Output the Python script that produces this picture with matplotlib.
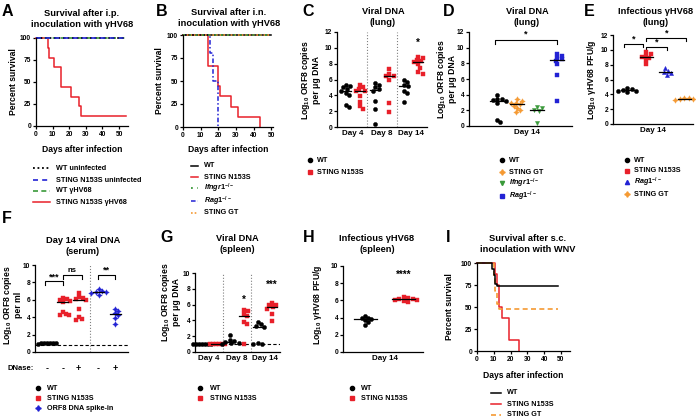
import numpy as np
import matplotlib
matplotlib.use('Agg')
import matplotlib.pyplot as plt
from matplotlib.lines import Line2D

W, H = 696, 420
plt.rcParams['font.family'] = ['Liberation Sans', 'DejaVu Sans']
plt.rcParams['font.weight'] = 'bold'
plt.rcParams['axes.labelweight'] = 'bold'
plt.rcParams['axes.linewidth'] = 0.9
plt.rcParams['mathtext.fontset'] = 'custom'
plt.rcParams['mathtext.rm'] = 'Liberation Sans:bold'
plt.rcParams['mathtext.bf'] = 'Liberation Sans:bold'
plt.rcParams['mathtext.it'] = 'Liberation Sans:italic:bold'

RED = '#e8202a'; BLUE = '#2222d4'; GREEN = '#3a9a3a'; ORANGE = '#f59a33'; BLK = 'black'

# ---------------- data ----------------
# A: survival i.p.
A_end = 54
A_wt_uninf_days, A_wt_uninf_pct = [0], [100]
A_n_uninf_days, A_n_uninf_pct = [0], [100]
A_wt_hv_days, A_wt_hv_pct = [0], [100]
A_n_hv_days = [0, 7, 8, 11, 15, 21, 26, 27]
A_n_hv_pct = [100, 88.9, 77.8, 66.7, 44.4, 33.3, 22.2, 11.1]
# B: survival i.n.
B_end = 50
B_wt_days, B_wt_pct = [0], [100]
B_n_days = [0, 14, 20, 20.7, 27, 31, 43.5]
B_n_pct = [100, 66.7, 44.4, 33.3, 22.2, 11.1, 0]
B_ifn_days, B_ifn_pct = [0], [100]
B_rag_days = [0, 15.5, 17, 20]
B_rag_pct = [100, 80, 50, 0]
B_gt_days, B_gt_pct = [0], [100]
# C: viral DNA lung (WT/N153S by day)
C_days = ['Day 4', 'Day 8', 'Day 14']
C_wt = [[5.3, 5.2, 5.0, 4.8, 4.6, 4.3, 4.0, 2.8, 2.5],
        [5.5, 5.3, 5.0, 4.8, 4.6, 3.3, 2.3, 0.4],
        [6.0, 5.7, 5.3, 5.2, 4.6, 4.3, 3.2]]
C_n = [[5.3, 5.0, 4.8, 4.6, 4.5, 3.9, 3.2, 2.6, 2.3],
       [7.3, 6.7, 6.5, 6.4, 6.0, 3.0, 1.9],
       [8.9, 8.7, 8.5, 8.3, 8.2, 7.9, 7.5, 6.9, 6.7]]
# D: viral DNA lung day 14
D_wt = [4.0, 3.5, 3.4, 3.3, 3.2, 3.0, 0.8, 0.5]
D_gt = [3.4, 3.2, 3.0, 2.9, 2.8, 2.6, 2.3, 2.0, 1.8]
D_ifn = [2.4, 2.3, 2.1, 1.9, 0.4]
D_rag = [9.2, 9.0, 8.7, 8.5, 8.3, 7.9, 6.5, 3.2]
# E: infectious lung
E_wt = [4.8, 4.7, 4.6, 4.5, 4.4, 4.3]
E_n = [9.7, 9.5, 9.2, 9.1, 8.9, 8.6, 8.1]
E_rag = [7.5, 7.2, 7.0, 6.9, 6.6]
E_gt = [3.5, 3.45, 3.4, 3.35, 3.3]
# F: serum
F_ticks = ['-', '-', '+', '-', '+']
F_wt = [1.05, 1.0, 1.0, 1.0, 0.95, 1.0, 1.0]
F_n_minus = [6.2, 6.1, 6.0, 5.9, 5.8, 4.6, 4.4, 4.3, 4.2]
F_n_plus = [6.8, 6.3, 6.2, 6.1, 6.0, 4.9, 4.0, 3.8, 3.7]
F_spk_minus = [7.2, 7.0, 6.95, 6.9, 6.8, 6.6]
F_spk_plus = [5.0, 4.7, 4.5, 4.3, 3.9, 3.2]
F_lod = 0.85
# G: spleen DNA
G_wt = [[1.0] * 7,
        [2.2, 1.5, 1.4, 1.3, 1.2, 1.1, 1.0],
        [3.8, 3.5, 3.3, 3.2, 1.1, 1.0, 1.0]]
G_n = [[1.0] * 6,
       [5.3, 5.2, 4.8, 4.5, 3.8, 3.5, 1.0],
       [6.2, 6.0, 5.9, 5.7, 5.5, 4.8, 3.9]]
G_lod = 1.0
# H: infectious spleen
H_wt = [4.2, 4.0, 3.9, 3.8, 3.7, 3.5, 3.1]
H_n = [6.35, 6.3, 6.2, 6.15, 6.1, 6.0, 5.9, 5.8]
# I: WNV survival
I_end = 48
I_wt_days = [0, 9, 10, 10.5, 11, 12]
I_wt_pct = [100, 93.3, 86.7, 80, 76.7, 73.3]
I_n_days = [0, 11, 12, 13, 15, 19, 25]
I_n_pct = [100, 87.5, 75, 50, 37.5, 12.5, 0]
I_gt_days = [0, 10, 11, 12, 13]
I_gt_pct = [100, 84, 68, 53, 47.4]

# ---------------- helpers ----------------
fig = plt.figure(figsize=(W / 100, H / 100), dpi=100)
TICK = 4.8; LAB = 6.2; TIT = 6.7; LEG = 5.2; LET = 11.5

def px_axes(l, t, r, b):
    ax = fig.add_axes([l / W, 1 - b / H, (r - l) / W, (b - t) / H])
    ax.spines['top'].set_visible(False)
    ax.spines['right'].set_visible(False)
    ax.tick_params(labelsize=TICK, length=2.5, width=0.9, pad=1)
    ax._px = (l, t, r, b)
    return ax

def ftext(x, y, s, **kw):
    kw.setdefault('ha', 'center'); kw.setdefault('va', 'center')
    return fig.text(x / W, 1 - y / H, s, **kw)

def letter(x, y, s):
    ftext(x, y, s, fontsize=LET, ha='left')

def title(x, y, s):
    ftext(x, y, s, fontsize=TIT, linespacing=1.15)

def ylab(x, y, s, ls=1.2):
    ftext(x, y, s, fontsize=LAB, rotation=90, linespacing=ls)

def surv(ax, days, pct, end, **kw):
    d = list(days) + [end]
    p = list(pct) + [pct[-1]]
    ax.step(d, p, where='post', clip_on=False, **kw)

def surv_axes(ax, xmax):
    ax.set_xlim(0, xmax); ax.set_ylim(0, 100)
    ax.set_xticks(range(0, 51, 10)); ax.set_yticks([0, 25, 50, 75, 100])

def swarm(ax, vals, dot=4.0, sep=0.85, step=1.5):
    l, t, r, b = ax._px
    x0, x1 = ax.get_xlim(); y0, y1 = ax.get_ylim()
    ppx = (r - l) / (x1 - x0); ppy = (b - t) / (y1 - y0)
    vals = np.asarray(vals, float)
    order = np.argsort(-vals, kind='stable')
    placed = []; offs = np.zeros(len(vals))
    for i in order:
        y = vals[i] * ppy
        for k in range(80):
            cand = 0.0 if k == 0 else ((k + 1) // 2) * step * (1 if k % 2 else -1)
            if all((cand - px) ** 2 + (y - py) ** 2 >= (dot * sep) ** 2 for px, py in placed):
                break
        placed.append((cand, y)); offs[i] = cand / ppx
    return offs

def group(ax, x, vals, color, marker, ms=3.0, hw=0.35, sep=0.85):
    offs = swarm(ax, vals, sep=sep)
    ax.plot(x + offs, vals, ls='none', marker=marker, color=color, ms=ms,
            mec=color, mew=0.3, clip_on=False, zorder=3)
    m = np.median(vals)
    ax.plot([x - hw, x + hw], [m, m], color=BLK, lw=0.9, zorder=4, clip_on=False)

def bracket(ax, x1, x2, y, h, txt, ty=None, fs=6.5):
    ax.plot([x1, x1, x2, x2], [y - h, y, y, y - h], color=BLK, lw=0.8, clip_on=False)
    ax.text((x1 + x2) / 2, y + (ty if ty is not None else 0.15), txt, ha='center',
            va='bottom', fontsize=fs)

def leg_marker(x, y, label, dx=7, **mk):
    fig.add_artist(Line2D([x / W], [1 - y / H], transform=fig.transFigure, ls='none', **mk))
    ftext(x + dx, y, label, fontsize=LEG, ha='left')

def leg_line(x1, x2, y, label, dx=6, **ln):
    fig.add_artist(Line2D([x1 / W, x2 / W], [1 - y / H] * 2, transform=fig.transFigure, **ln))
    ftext(x2 + dx, y, label, fontsize=LEG, ha='left')

STAR4 = (4, 1, 0)

# ---------------- A ----------------
ax = px_axes(36, 38, 128, 126)
surv_axes(ax, 55.4)
surv(ax, A_n_hv_days, A_n_hv_pct, A_end, color=RED, lw=1.1)
surv(ax, A_wt_hv_days, A_wt_hv_pct, A_end, color=GREEN, lw=1.2, ls=(0, (3, 2)))
surv(ax, A_wt_uninf_days, A_wt_uninf_pct, A_end, color=BLK, lw=1.3, ls=(0, (1, 1.5)))
surv(ax, A_n_uninf_days, A_n_uninf_pct, A_end, color=BLUE, lw=1.2, ls=(0, (3, 2.5)))
letter(2, 11, 'A')
title(82, 19, 'Survival after i.p.\ninoculation with γHV68')
ftext(82, 150, 'Days after infection', fontsize=LAB)
ylab(13, 82, 'Percent survival')
leg_line(33, 50, 168, 'WT uninfected', color=BLK, lw=1.3, ls=(0, (1, 1.5)))
leg_line(33, 50, 180, 'STING N153S uninfected', color=BLUE, lw=1.2, ls=(0, (3, 2.5)))
leg_line(33, 50, 191, 'WT γHV68', color=GREEN, lw=1.2, ls=(0, (3, 2)))
leg_line(33, 50, 202, 'STING N153S γHV68', color=RED, lw=1.1)

# ---------------- B ----------------
ax = px_axes(183, 35, 273, 127)
surv_axes(ax, 50.9)
surv(ax, B_n_days, B_n_pct, B_n_days[-1], color=RED, lw=1.1)
surv(ax, B_rag_days, B_rag_pct, B_rag_days[-1], color=BLUE, lw=1.1, ls=(0, (3, 1.5, 1, 1.5)))
surv(ax, B_wt_days, B_wt_pct, B_end, color=BLK, lw=1.1)
surv(ax, B_gt_days, B_gt_pct, B_end, color=ORANGE, lw=1.2, ls=(0, (1, 1.2)))
surv(ax, B_ifn_days, B_ifn_pct, B_end, color=GREEN, lw=1.3, ls=(0, (1, 2.5)))
letter(156, 11, 'B')
title(229, 18, 'Survival after i.n.\ninoculation with γHV68')
ftext(228, 150, 'Days after infection', fontsize=LAB)
ylab(160, 81, 'Percent survival')
leg_line(191, 198, 166, 'WT', color=BLK, lw=1.1)
leg_line(191, 198, 177, 'STING N153S', color=RED, lw=1.1)
leg_line(191, 198, 188, r'$\mathit{Ifngr1}^{-/-}$', color=GREEN, lw=1.3, ls=(0, (1, 2.5)))
leg_line(191, 198, 201, r'$\mathit{Rag1}^{-/-}$', color=BLUE, lw=1.1, ls=(0, (3, 1.5, 1, 1.5)))
leg_line(191, 198, 213, 'STING GT', color=ORANGE, lw=1.2, ls=(0, (1, 1.2)))

# ---------------- C ----------------
ax = px_axes(337, 32, 427, 127)
ax.set_xlim(-0.6, 5.6); ax.set_ylim(0, 12)
ax.set_yticks(range(0, 13, 2))
ax.set_xticks([0.5, 2.5, 4.5]); ax.set_xticklabels(C_days, fontsize=5.8)
ax.tick_params(axis='x', length=0, pad=2)
for xv in (1.5, 3.5):
    ax.axvline(xv, color='gray', ls=':', lw=0.8)
for i in range(3):
    group(ax, 2 * i, C_wt[i], BLK, 'o')
    group(ax, 2 * i + 1, C_n[i], RED, 's')
ax.text(5, 10.0, '*', ha='center', va='bottom', fontsize=7)
letter(302, 11, 'C')
title(383, 17, 'Viral DNA\n(lung)')
ylab(310, 80, 'Log$_{10}$ ORF8 copies\nper μg DNA', ls=1.1)
leg_marker(310, 160, 'WT', marker='o', color=BLK, ms=3)
leg_marker(310, 172, 'STING N153S', marker='s', color=RED, ms=3)

# ---------------- D ----------------
ax = px_axes(469, 32, 572, 126)
ax.set_xlim(-1.4, 3.75); ax.set_ylim(0, 12)
ax.set_yticks(range(0, 13, 2))
ax.set_xticks([1.5]); ax.set_xticklabels(['Day 14'], fontsize=5.8)
ax.tick_params(axis='x', length=0, pad=2)
group(ax, 0, D_wt, BLK, 'o')
group(ax, 1, D_gt, ORANGE, STAR4, ms=4)
group(ax, 2, D_ifn, GREEN, 'v')
group(ax, 3, D_rag, BLUE, 's')
bracket(ax, -0.1, 3.0, 11.0, 0.5, '*')
letter(443, 11, 'D')
title(527, 17, 'Viral DNA\n(lung)')
ylab(446, 79, 'Log$_{10}$ ORF8 copies\nper μg DNA', ls=1.1)
leg_marker(502, 160, 'WT', marker='o', color=BLK, ms=3)
leg_marker(502, 172, 'STING GT', marker=STAR4, color=ORANGE, ms=4)
leg_marker(502, 183, r'$\mathit{Ifngr1}^{-/-}$', marker='v', color=GREEN, ms=3)
leg_marker(502, 196, r'$\mathit{Rag1}^{-/-}$', marker='s', color=BLUE, ms=3)

# ---------------- E ----------------
ax = px_axes(613, 35, 693, 124)
ax.set_xlim(-0.75, 3.45); ax.set_ylim(0, 12)
ax.set_yticks(range(0, 13, 2))
ax.set_xticks([1.35]); ax.set_xticklabels(['Day 14'], fontsize=5.8)
ax.tick_params(axis='x', length=0, pad=2)
group(ax, 0, E_wt, BLK, 'o')
group(ax, 1, E_n, RED, 's')
group(ax, 2, E_rag, BLUE, '^')
group(ax, 3, E_gt, ORANGE, STAR4, ms=4)
bracket(ax, -0.15, 0.85, 10.8, 0.45, '*', ty=0.05)
bracket(ax, 1.0, 2.1, 10.4, 0.45, '*', ty=0.05)
bracket(ax, 1.0, 3.1, 11.6, 0.45, '*', ty=0.05)
letter(584, 11, 'E')
title(656, 17, 'Infectious γHV68\n(lung)')
ylab(592, 80, 'Log$_{10}$ γHV68 PFU/g')
leg_marker(627, 160, 'WT', marker='o', color=BLK, ms=3)
leg_marker(627, 171, 'STING N153S', marker='s', color=RED, ms=3)
leg_marker(627, 182, r'$\mathit{Rag1}^{-/-}$', marker='^', color=BLUE, ms=3)
leg_marker(627, 194, 'STING GT', marker=STAR4, color=ORANGE, ms=4)

# ---------------- F ----------------
ax = px_axes(35, 265, 128, 352)
Fx = [0, 1, 2, 3.25, 4.3]
ax.set_xlim(-0.75, 5.1); ax.set_ylim(0, 10)
ax.set_yticks(range(0, 11, 2))
ax.set_xticks(Fx); ax.set_xticklabels(F_ticks, fontsize=6.5)
ax.tick_params(axis='x', length=0, pad=9)
ax.axvline(2.7, color='gray', ls=':', lw=0.8)
ax.axhline(F_lod, color=BLK, ls=(0, (3, 2)), lw=0.8)
group(ax, Fx[0], F_wt, BLK, 'o', sep=0.45)
group(ax, Fx[1], F_n_minus, RED, 's')
group(ax, Fx[2], F_n_plus, RED, 's')
group(ax, Fx[3], F_spk_minus, BLUE, STAR4, ms=4)
group(ax, Fx[4], F_spk_plus, BLUE, STAR4, ms=4)
bracket(ax, -0.1, 1.0, 8.15, 0.45, '***', ty=0.0)
bracket(ax, 1.0, 2.2, 8.85, 0.45, 'ns', ty=0.1, fs=5.5)
bracket(ax, 3.2, 4.3, 8.85, 0.45, '**', ty=0.0)
ftext(7, 369, 'DNase:', fontsize=5.5, ha='left')
letter(2, 218, 'F')
title(83, 246, 'Day 14 viral DNA\n(serum)')
ylab(12, 305, 'Log$_{10}$ ORF8 copies\nper ml', ls=1.1)
leg_marker(38, 388, 'WT', dx=9, marker='o', color=BLK, ms=3)
leg_marker(38, 398, 'STING N153S', dx=9, marker='s', color=RED, ms=3)
leg_marker(38, 408, 'ORF8 DNA spike-in', dx=9, marker=STAR4, color=BLUE, ms=4)

# ---------------- G ----------------
ax = px_axes(195, 273, 280, 352)
ax.set_xlim(-0.5, 5.6); ax.set_ylim(0, 10)
ax.set_yticks(range(0, 11, 2))
ax.set_xticks([0.5, 2.5, 4.5]); ax.set_xticklabels(C_days, fontsize=5.8)
ax.tick_params(axis='x', length=0, pad=2)
for xv in (1.5, 3.5):
    ax.axvline(xv, color='gray', ls=':', lw=0.8)
ax.axhline(G_lod, color=BLK, ls=(0, (3, 2)), lw=0.8)
for i in range(3):
    sp = 0.45 if i == 0 else 0.85
    group(ax, 2 * i, G_wt[i], BLK, 'o', sep=sp)
    group(ax, 2 * i + 1, G_n[i], RED, 's', sep=sp)
ax.text(3, 6.0, '*', ha='center', va='bottom', fontsize=7)
ax.text(5, 7.9, '***', ha='center', va='bottom', fontsize=7)
letter(160, 237, 'G')
title(237, 244, 'Viral DNA\n(spleen)')
ylab(170, 302, 'Log$_{10}$ ORF8 copies\nper μg DNA', ls=1.1)
leg_marker(200, 388, 'WT', dx=10, marker='o', color=BLK, ms=3)
leg_marker(200, 398, 'STING N153S', dx=10, marker='s', color=RED, ms=3)

# ---------------- H ----------------
ax = px_axes(343, 266, 423, 352)
ax.set_xlim(-0.58, 1.5); ax.set_ylim(0, 10)
ax.set_yticks(range(0, 11, 2))
ax.set_xticks([0.5]); ax.set_xticklabels(['Day 14'], fontsize=5.8)
ax.tick_params(axis='x', length=0, pad=2)
group(ax, 0, H_wt, BLK, 'o', hw=0.3)
group(ax, 1, H_n, RED, 's', hw=0.3)
ax.text(1, 8.4, '****', ha='center', va='bottom', fontsize=7)
letter(303, 238, 'H')
title(377, 244, 'Infectious γHV68\n(spleen)')
ylab(318, 305, 'Log$_{10}$ γHV68 PFU/g')
leg_marker(352, 388, 'WT', dx=9, marker='o', color=BLK, ms=3)
leg_marker(352, 398, 'STING N153S', dx=9, marker='s', color=RED, ms=3)

# ---------------- I ----------------
ax = px_axes(477, 263, 570, 351)
surv_axes(ax, 55.4)
surv(ax, I_n_days, I_n_pct, I_n_days[-1], color=RED, lw=1.1)
surv(ax, I_gt_days, I_gt_pct, I_end, color=ORANGE, lw=1.2, ls=(0, (3, 2)))
surv(ax, I_wt_days, I_wt_pct, I_end, color=BLK, lw=1.1)
letter(446, 238, 'I')
title(528, 244, 'Survival after s.c.\ninoculation with WNV')
ftext(523, 375, 'Days after infection', fontsize=LAB)
ylab(450, 307, 'Percent survival')
leg_line(491, 501, 393, 'WT', color=BLK, lw=1.1)
leg_line(491, 501, 404, 'STING N153S', color=RED, lw=1.1)
leg_line(491, 501, 415, 'STING GT', color=ORANGE, lw=1.2, ls=(0, (3, 2)))

fig.savefig('out.png', dpi=100)
